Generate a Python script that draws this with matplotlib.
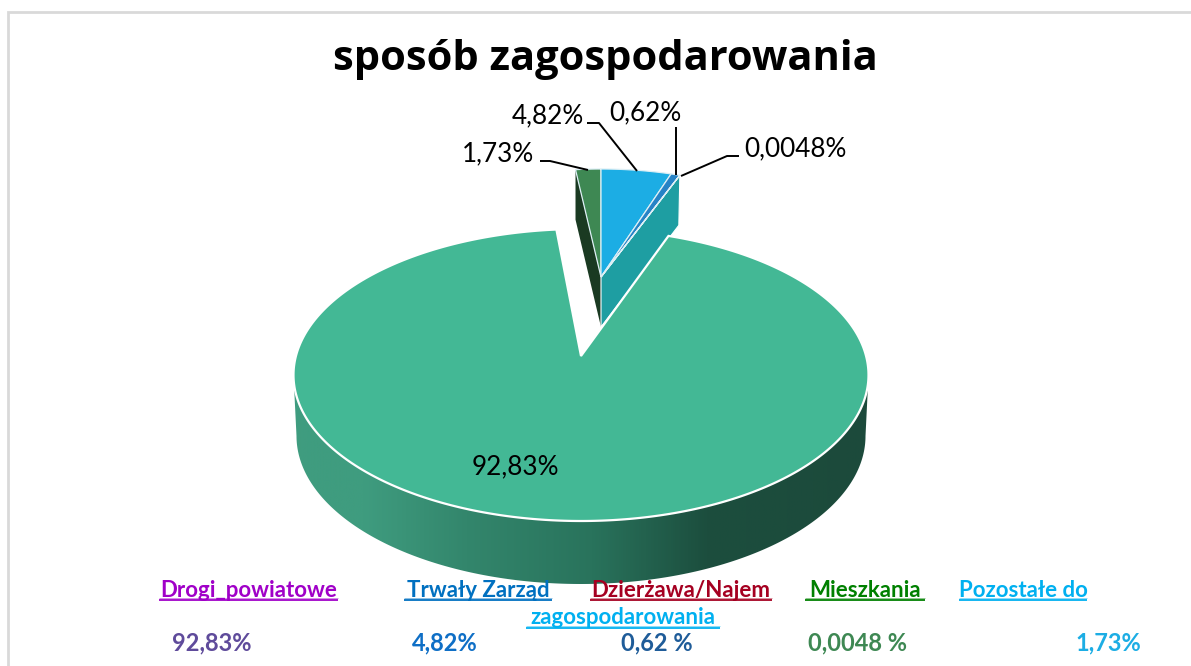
import numpy as np
import matplotlib
matplotlib.use("Agg")
import matplotlib.pyplot as plt
from matplotlib.colors import LinearSegmentedColormap
from matplotlib.patches import Polygon

TITLE = "sposób zagospodarowania"
categories = ["Drogi_powiatowe", "Trwały Zarząd", "Dzierżawa/Najem", "Mieszkania", "Pozostałe do\nzagospodarowania"]
values = [92.83, 4.82, 0.62, 0.0048, 1.73]
slice_labels = ["92,83%", "4,82%", "0,62%", "0,0048%", "1,73%"]
legend_values = ["92,83%", "4,82%", "0,62 %", "0,0048 %", "1,73%"]
slice_colors = ["#43B895", "#1CADE4", "#2683C6", "#27CED7", "#3E8853"]
legend_colors = ["#A000C8", "#0070C0", "#A50021", "#008000", "#00B0F0"]
value_colors = ["#5F4B9B", "#0F6FC6", "#1F5C99", "#3E8853", "#1CADE4"]

W, H = 1191, 666
fig = plt.figure(figsize=(W / 100, H / 100), dpi=100)
ax = fig.add_axes([0, 0, 1, 1])
ax.set_xlim(0, W)
ax.set_ylim(H, 0)
ax.axis("off")

# frame (open at right and bottom, as cropped in the reference)
ax.plot([8, 8, W], [H, 11.5, 11.5], color="#D9D9D9", lw=2, solid_joinstyle="miter", zorder=1)

deg = 3.6  # degrees per percent

# ---- large slice: rays from the apex up to the rim ellipse
ax0, ay0 = 581.0, 356.0
cx, cy, rx, ry = 581.0, 375.0, 287.5, 146.0
sq = 0.505


def rim(theta):
    """Point where a ray from the apex (clockwise degrees from top) meets the rim."""
    th = np.radians(theta)
    dx, dy = np.sin(th), -np.cos(th) * sq
    ox, oy = ax0 - cx, ay0 - cy
    a = (dx / rx) ** 2 + (dy / ry) ** 2
    b = 2 * (ox * dx / rx ** 2 + oy * dy / ry ** 2)
    c = (ox / rx) ** 2 + (oy / ry) ** 2 - 1
    t = (-b + np.sqrt(b * b - 4 * a * c)) / (2 * a)
    return ax0 + t * dx, ay0 + t * dy


start_big = 20.2
angles = np.linspace(start_big, start_big + values[0] * deg, 500)
pts = np.array([rim(a) for a in angles])

# side wall with gradient
t = np.linspace(np.pi, 0, 300)
top_arc = np.c_[cx + rx * np.cos(t), cy + ry * np.sin(t)]
bot_arc = np.c_[cx + 284.5 * np.cos(t[::-1]), 436 + 148 * np.sin(t[::-1])]
side = Polygon(np.r_[top_arc, bot_arc], closed=True, fc="none", ec="none", zorder=2)
ax.add_patch(side)
cmap = LinearSegmentedColormap.from_list(
    "wall",
    [(0, "#3F9C7F"), (0.12, "#3F9C7F"), (0.3, "#33866C"), (0.52, "#29735C"), (0.72, "#1C4E3E"), (1, "#1C4A3B")],
)
grad = np.linspace(0, 1, 600).reshape(1, -1)
im = ax.imshow(grad, cmap=cmap, extent=(294, 868, 590, 370), aspect="auto", zorder=2)
im.set_clip_path(side)
ax.set_xlim(0, W)
ax.set_ylim(H, 0)

big = Polygon(np.r_[[[ax0, ay0]], pts], closed=True, fc=slice_colors[0], ec="white", lw=1.6, zorder=6, joinstyle="miter")
ax.add_patch(big)

# ---- small exploded slices
sx, sy = 601.0, 277.0
srx, sry = 235.0, 108.0
depth = 50.0


def small_rim(a):
    th = np.radians(a)
    return sx + srx * np.sin(th), sy - sry * np.cos(th)


# green slice (1.73 %) sits left of vertical, the rest run clockwise from the vertical
a0 = -values[4] * deg
gx, gy = small_rim(a0)
ax.add_patch(Polygon([[gx, gy], [sx, sy], [sx, sy + depth], [gx, gy + depth]], closed=True,
                     fc="#1A3A22", ec="none", zorder=3))
end_angle = (values[1] + values[2] + values[3]) * deg
ex, ey = small_rim(end_angle)
ax.add_patch(Polygon([[sx, sy], [ex, ey], [ex - 1, ey + depth], [sx, sy + depth]], closed=True,
                     fc="#1E9EA2", ec="white", lw=0.8, zorder=3))

wedges = [(a0, 0.0, slice_colors[4])]
cur = 0.0
for v, col in zip(values[1:4], slice_colors[1:4]):
    wedges.append((cur, cur + v * deg, col))
    cur += v * deg
for a, b, col in wedges:
    arc = np.array([small_rim(x) for x in np.linspace(a, b, 30)])
    ax.add_patch(Polygon(np.r_[[[sx, sy]], arc], closed=True, fc=col, ec="#DDEFF5", lw=0.9, zorder=4))

# ---- leader lines
leaders = [
    ([540, 550, 588], [161, 161, 170]),
    ([587, 599, 637], [123, 123, 171]),
    ([676, 676], [127, 175]),
    ([739, 727, 681], [156, 156, 176]),
]
for xs, ys in leaders:
    ax.plot(xs, ys, color="black", lw=1.4, zorder=7, solid_capstyle="butt")

FONT = ["Lato", "DejaVu Sans"]
lab_pos = {0: (515, 467), 1: (547.5, 116), 2: (645, 113), 3: (795.5, 149), 4: (498, 154)}
for i, s in enumerate(slice_labels):
    ax.text(*lab_pos[i], s, ha="center", va="center", fontsize=18.8, family=FONT, color="black", zorder=8)

ax.text(605, 59, TITLE, ha="center", va="center", fontsize=30, family=["Open Sans", "DejaVu Sans"],
        fontweight="bold", color="black", zorder=8)

# ---- legend block
leg_x = [248.5, 478, 681, 865, 1023]
ul_x = [(159, 338), (404, 552), (590, 772), (805, 925), (959, 1087)]
for i, name in enumerate(categories):
    first = name.split("\n")[0]
    ax.text(leg_x[i], 597, first, ha="center", va="baseline", fontsize=16, family=FONT, fontweight="bold",
            color=legend_colors[i], zorder=8)
    x0, x1 = ul_x[i]
    ax.plot([x0, x1], [600, 600], color=legend_colors[i], lw=1.3, zorder=8, solid_capstyle="butt")
    ax.plot([x0, x1], [598.2, 598.2], color=legend_colors[i], lw=0.7, alpha=0.45, zorder=8, solid_capstyle="butt")
    if "\n" in name:
        second = name.split("\n")[1]
        ax.text(623, 624, second, ha="center", va="baseline", fontsize=16, family=FONT, fontweight="bold",
                color=legend_colors[i], zorder=8)
        ax.plot([526, 720], [628, 628], color=legend_colors[i], lw=1.3, zorder=8, solid_capstyle="butt")
        ax.plot([526, 720], [626.2, 626.2], color=legend_colors[i], lw=0.7, alpha=0.45, zorder=8, solid_capstyle="butt")

val_x = [211.5, 445, 656.5, 858, 1108.5]
for x, s, c in zip(val_x, legend_values, value_colors):
    ax.text(x, 650, s, ha="center", va="baseline", fontsize=17, family=FONT, fontweight="bold", color=c, zorder=8)

fig.savefig("out.png", dpi=100, facecolor="white")
